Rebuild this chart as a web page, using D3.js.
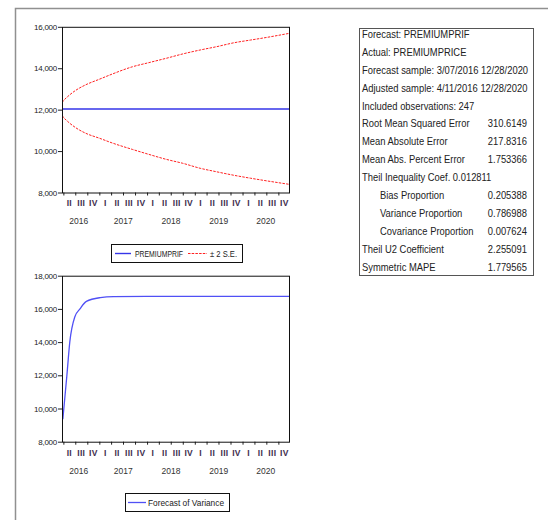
<!DOCTYPE html>
<html>
<head>
<meta charset="utf-8">
<script src="https://cdn.jsdelivr.net/npm/d3@7"></script>
<style>
body { margin: 0; background: #fff; }
svg text { font-family: "Liberation Sans", Arial, sans-serif; fill: #222; }
</style>
</head>
<body>
<svg id="chart" width="548" height="520"></svg>
<script>
// forecast bands
var bandDates = ["2016-03-07", "2016-04-04", "2016-05-02", "2016-07-04", "2016-09-19", "2017-01-02",
  "2017-04-10", "2017-09-11", "2018-01-15", "2018-05-28", "2018-10-01", "2019-02-11",
  "2019-06-17", "2019-10-28", "2020-03-02", "2020-07-06", "2020-12-28"];
var upperBand = [12200, 12450, 12620, 12930, 13200, 13470, 13720, 14070, 14270, 14480, 14690, 14880,
  15040, 15230, 15360, 15490, 15690];
var lowerBand = [11860, 11610, 11440, 11130, 10860, 10620, 10390, 10080, 9840, 9600, 9410, 9170,
  9000, 8830, 8690, 8560, 8390];

var forecastDates = ["2016-03-07", "2020-12-28"];
var forecastValues = [12030, 12030];

// variance forecast (bottom panel)
var varianceDates = ["2016-03-28", "2016-04-28", "2016-05-20", "2016-06-28", "2016-08-06", "2016-09-24",
  "2017-01-08", "2017-04-19", "2018-01-01", "2019-01-01", "2020-12-28"];
var varianceValues = [9350, 12000, 14000, 15530, 16000, 16450, 16680, 16740, 16750, 16750, 16750];

var topTicks = [8000, 10000, 12000, 14000, 16000];
var bottomTicks = [8000, 10000, 12000, 14000, 16000, 18000];
var quarterNames = ["I", "II", "III", "IV"];
var years = [2016, 2017, 2018, 2019, 2020];

var statLines = [
  { label: "Forecast: PREMIUMPRIF", value: "", indent: false },
  { label: "Actual: PREMIUMPRICE", value: "", indent: false },
  { label: "Forecast sample: 3/07/2016 12/28/2020", value: "", indent: false },
  { label: "Adjusted sample: 4/11/2016 12/28/2020", value: "", indent: false },
  { label: "Included observations: 247", value: "", indent: false },
  { label: "Root Mean Squared Error", value: "310.6149", indent: false },
  { label: "Mean Absolute Error", value: "217.8316", indent: false },
  { label: "Mean Abs. Percent Error", value: "1.753366", indent: false },
  { label: "Theil Inequality Coef.  0.012811", value: "", indent: false },
  { label: "Bias Proportion", value: "0.205388", indent: true },
  { label: "Variance Proportion", value: "0.786988", indent: true },
  { label: "Covariance Proportion", value: "0.007624", indent: true },
  { label: "Theil U2 Coefficient", value: "2.255091", indent: false },
  { label: "Symmetric MAPE", value: "1.779565", indent: false }
];

var parse = d3.timeParse("%Y-%m-%d");
var svg = d3.select("#chart");

// outer frame
svg.append("path")
  .attr("d", "M15.5,520 L15.5,8.5 L548,8.5")
  .attr("fill", "none")
  .attr("stroke", "#909090")
  .attr("stroke-width", 1.5);

var plotLeft = 62, plotRight = 289;

var x = d3.scaleTime()
  .domain([parse("2016-03-07"), parse("2021-01-01")])
  .range([60.1, 290.4]);

function drawPanel(id, top, bottom, yDomain, yTicks, quarterY, yearY) {
  var y = d3.scaleLinear().domain(yDomain).range([bottom, top]);

  var g = svg.append("g").attr("id", id);

  g.append("clipPath").attr("id", id + "_clip")
    .append("rect")
    .attr("x", plotLeft).attr("y", top)
    .attr("width", plotRight - plotLeft).attr("height", bottom - top);

  // y axis
  var yAxis = g.append("g")
    .attr("transform", "translate(" + plotLeft + ",0)")
    .call(d3.axisLeft(y).tickValues(yTicks).tickSize(4).tickPadding(1).tickFormat(d3.format(",")));
  yAxis.select(".domain").remove();
  yAxis.selectAll("line").attr("stroke", "#222");
  yAxis.selectAll("text")
    .style("font-size", "8px")
    .style("letter-spacing", "-0.25px")
    .attr("font-family", null)
    .attr("fill", "#333");

  // x axis quarter ticks
  var quarters = d3.timeMonth.every(3).range(parse("2016-04-01"), parse("2021-01-02"));
  var xAxis = g.append("g")
    .attr("transform", "translate(0," + bottom + ")")
    .call(d3.axisBottom(x).tickValues(quarters.slice(0, -1)).tickSize(3).tickFormat(""));
  xAxis.select(".domain").remove();
  xAxis.selectAll("line").attr("stroke", "#222");

  // quarter labels
  var qLabels = quarters.slice(0, -1).map(function (q, i) {
    return { pos: (x(q) + x(quarters[i + 1])) / 2, name: quarterNames[Math.floor(q.getMonth() / 3)] };
  });
  g.selectAll(".qlab").data(qLabels).enter().append("text")
    .attr("class", "qlab")
    .attr("x", function (d) { return d.pos; })
    .attr("y", quarterY)
    .attr("text-anchor", "middle")
    .style("font-size", "8.5px")
    .style("font-weight", "bold")
    .style("letter-spacing", "0.3px")
    .style("fill", "#43304f")
    .text(function (d) { return d.name; });

  // year labels
  g.selectAll(".ylab").data(years).enter().append("text")
    .attr("class", "ylab")
    .attr("x", function (d) {
      var a = Math.max(plotLeft, x(new Date(d, 0, 1)));
      var b = Math.min(plotRight, x(new Date(d + 1, 0, 1)));
      return (a + b) / 2 - (d == 2016 ? 2 : 0);
    })
    .attr("y", yearY)
    .attr("text-anchor", "middle")
    .style("font-size", "8.5px")
    .style("fill", "#333")
    .text(function (d) { return d; });

  var content = g.append("g").attr("clip-path", "url(#" + id + "_clip)");

  // plot frame
  g.append("rect")
    .attr("x", plotLeft + 0.5).attr("y", top + 0.5)
    .attr("width", plotRight - plotLeft).attr("height", bottom - top)
    .attr("fill", "none").attr("stroke", "#111");

  return { y: y, content: content };
}

function series(dates, values) {
  return dates.map(function (d, i) { return { date: parse(d), value: values[i] }; });
}

// top panel
var topPanel = drawPanel("top", 26.8, 192.5, [8000, 16000], topTicks, 205.5, 223.5);
var lineTop = d3.line()
  .x(function (d) { return x(d.date); })
  .y(function (d) { return topPanel.y(d.value); })
  .curve(d3.curveMonotoneX);

[upperBand, lowerBand].forEach(function (band) {
  topPanel.content.append("path")
    .datum(series(bandDates, band))
    .attr("d", lineTop)
    .attr("fill", "none")
    .attr("stroke", "#ff2020")
    .attr("stroke-width", 1)
    .attr("stroke-dasharray", "2.5,1.2");
});

topPanel.content.append("path")
  .datum(series(forecastDates, forecastValues))
  .attr("d", lineTop)
  .attr("fill", "none")
  .attr("stroke", "#3535e8")
  .attr("stroke-width", 1.4);

// top legend
var leg1 = svg.append("g");
leg1.append("rect").attr("x", 111.5).attr("y", 244.5).attr("width", 131).attr("height", 18)
  .attr("fill", "#fff").attr("stroke", "#111");
leg1.append("line").attr("x1", 115).attr("x2", 131).attr("y1", 253.5).attr("y2", 253.5)
  .attr("stroke", "#3535e8").attr("stroke-width", 1.4);
leg1.append("text").attr("x", 135).attr("y", 256.8)
  .attr("textLength", 48).attr("lengthAdjust", "spacingAndGlyphs")
  .style("font-size", "9px").text("PREMIUMPRIF");
leg1.append("line").attr("x1", 188).attr("x2", 207).attr("y1", 253.5).attr("y2", 253.5)
  .attr("stroke", "#ff2020").attr("stroke-dasharray", "2.5,1.2");
leg1.append("text").attr("x", 210).attr("y", 256.8)
  .attr("textLength", 27).attr("lengthAdjust", "spacingAndGlyphs")
  .style("font-size", "9px").text("± 2 S.E.");

// bottom panel
var botPanel = drawPanel("bottom", 275.7, 441.7, [8000, 18000], bottomTicks, 455.5, 473.5);
var lineBot = d3.line()
  .x(function (d) { return x(d.date); })
  .y(function (d) { return botPanel.y(d.value); })
  .curve(d3.curveMonotoneX);

botPanel.content.append("path")
  .datum(series(varianceDates, varianceValues))
  .attr("d", lineBot)
  .attr("fill", "none")
  .attr("stroke", "#5050f5")
  .attr("stroke-width", 1.3);

var leg2 = svg.append("g");
leg2.append("rect").attr("x", 125.5).attr("y", 493.5).attr("width", 104).attr("height", 18)
  .attr("fill", "#fff").attr("stroke", "#111");
leg2.append("line").attr("x1", 128).attr("x2", 146).attr("y1", 502.5).attr("y2", 502.5)
  .attr("stroke", "#5050f5").attr("stroke-width", 1.3);
leg2.append("text").attr("x", 148).attr("y", 505.8)
  .attr("textLength", 76).attr("lengthAdjust", "spacingAndGlyphs")
  .style("font-size", "9px").text("Forecast of Variance");

// stats box
var box = svg.append("g");
box.append("rect").attr("x", 359.5).attr("y", 28.5).attr("width", 174).attr("height", 247)
  .attr("fill", "#fff").attr("stroke", "#555");

var rows = box.selectAll(".row").data(statLines).enter().append("g")
  .attr("class", "row");
rows.append("text")
  .attr("transform", function (d, i) {
    return "translate(" + (d.indent ? 380 : 362) + "," + (37.8 + i * 17.93) + ") scale(0.84,1)";
  })
  .style("font-size", "11.2px")
  .text(function (d) { return d.label; });
rows.append("text")
  .attr("transform", function (d, i) {
    return "translate(527," + (37.8 + i * 17.93) + ") scale(0.84,1)";
  })
  .attr("text-anchor", "end")
  .style("font-size", "11.2px")
  .text(function (d) { return d.value; });
</script>
</body>
</html>
